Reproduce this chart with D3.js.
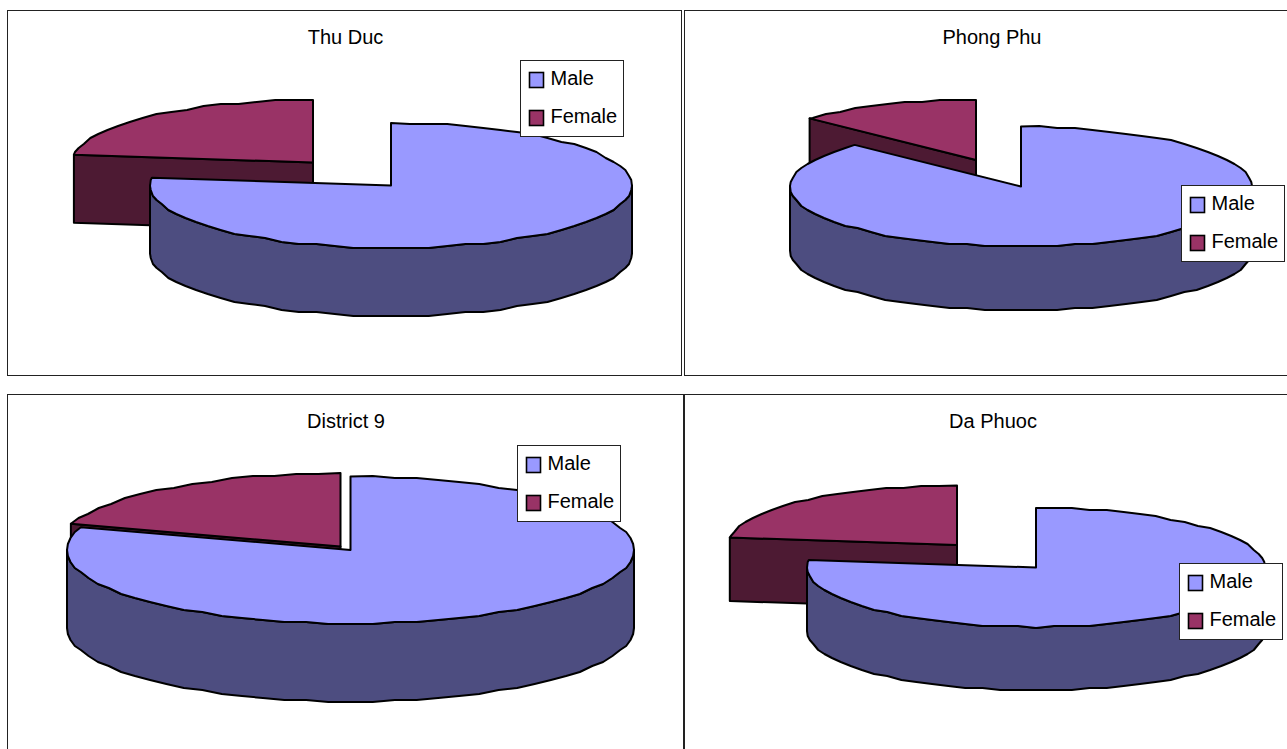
<!DOCTYPE html>
<html>
<head>
<meta charset="utf-8">
<title>Male and female share by district</title>
<script src="https://cdn.jsdelivr.net/npm/d3@7"></script>
<style>
    html, body { margin: 0; padding: 0; background: #fff; overflow: hidden; }
    text { font-family: "Liberation Sans", Arial, sans-serif; font-size: 20px; fill: #000; }
</style>
</head>
<body>
<div id="chart"></div>
<script>
var districts = ["Thu Duc", "Phong Phu", "District 9", "Da Phuoc"];
var categories = ["Male", "Female"];
var maleShare = [77, 87.2, 80, 77];
var femaleShare = [23, 12.8, 20, 23];

var width = 1287;
var height = 749;

var topColors = ["#9999ff", "#993366"];
var sideColors = ["#4d4d80", "#4d1a33"];

// panel frame, pie centre, radii, thickness and how far the female slice is pulled out
var panels = [
    { x: 7.5, y: 10.5, w: 674, h: 365, cx: 391, cy: 185.5, rx: 241, ry: 62.5, depth: 68, dx: -78, dy: -23, titleX: 345.5, titleY: 44, legendX: 520.5, legendY: 60.5 },
    { x: 684.5, y: 10.5, w: 606, h: 365, cx: 1021, cy: 186.5, rx: 231, ry: 60, depth: 64, dx: -45, dy: -26.5, titleX: 992, titleY: 44, legendX: 1181.5, legendY: 185.5 },
    { x: 7.5, y: 394.5, w: 676, h: 366, cx: 350.5, cy: 550, rx: 283.5, ry: 73.5, depth: 78, dx: -10, dy: -3.5, titleX: 346, titleY: 428, legendX: 517.5, legendY: 445.5 },
    { x: 684.5, y: 394.5, w: 606, h: 366, cx: 1036, cy: 567.5, rx: 229, ry: 59.5, depth: 63.5, dx: -79, dy: -22.5, titleX: 993, titleY: 428, legendX: 1179.5, legendY: 563.5 }
];

var legendWidth = 103;
var legendHeight = 76;
var stepAngle = Math.PI / 40;
var rimGrid = 2;

var pie = d3.pie().sort(null).value(function(d) { return d; });

var svg = d3.select("#chart")
    .append("svg")
    .attr("width", width)
    .attr("height", height)
    .style("display", "block");

// angles along the rim, with a flag on the ones that are free to snap
function rimAngles(a0, a1) {
    var angles = [{ a: a0, end: true }];
    var next = (Math.floor(a0 / stepAngle) + 1) * stepAngle;
    while (next < a1 - 0.001) {
        angles.push({ a: next, end: false });
        next += stepAngle;
    }
    angles.push({ a: a1, end: true });
    return angles;
}

function drawSlice(g, slice, index, x, y, depth) {
    var line = d3.line();
    var a0 = slice.startAngle;
    var a1 = slice.endAngle;

    function exactPoint(a, drop) {
        return [x(Math.sin(a)), y(-Math.cos(a)) + drop];
    }

    // interior rim points step vertically, which gives the slightly faceted outline
    function rimPoint(d, drop) {
        var pt = exactPoint(d.a, drop);
        if (d.end) return pt;
        return [pt[0], Math.round(pt[1] / rimGrid) * rimGrid];
    }

    function styled(path, fill) {
        path.attr("fill", fill)
            .attr("stroke", "#000")
            .attr("stroke-width", 2)
            .attr("stroke-linejoin", "round");
    }

    // the cut face shows only when it turns towards the viewer
    [[a0, a0 - Math.PI / 2], [a1, a1 + Math.PI / 2]].forEach(function(face) {
        if (Math.cos(face[1]) < -0.001) {
            g.append("path")
                .attr("d", line([
                    [x(0), y(0)],
                    exactPoint(face[0], 0),
                    exactPoint(face[0], depth),
                    [x(0), y(0) + depth]
                ]) + "Z")
                .call(styled, sideColors[index]);
        }
    });

    // outer wall, front half of the rim only
    var wall0 = Math.max(a0, Math.PI / 2);
    var wall1 = Math.min(a1, Math.PI * 1.5);
    if (wall1 > wall0) {
        var angles = rimAngles(wall0, wall1);
        var upper = angles.map(function(d) { return rimPoint(d, 0); });
        var lower = angles.slice().reverse().map(function(d) { return rimPoint(d, depth); });
        g.append("path")
            .attr("d", line(upper.concat(lower)) + "Z")
            .call(styled, sideColors[index]);
    }

    var top = [[x(0), y(0)]].concat(rimAngles(a0, a1).map(function(d) { return rimPoint(d, 0); }));
    g.append("path")
        .attr("d", line(top) + "Z")
        .call(styled, topColors[index]);
}

function drawLegend(g, p) {
    var legend = g.append("g")
        .attr("transform", "translate(" + p.legendX + "," + p.legendY + ")");

    legend.append("rect")
        .attr("width", legendWidth)
        .attr("height", legendHeight)
        .attr("fill", "#fff")
        .attr("stroke", "#222");

    var legendY = d3.scalePoint()
        .domain(categories)
        .range([19, 57]);

    var items = legend.selectAll(".item")
        .data(categories)
        .enter()
        .append("g")
        .attr("class", "item")
        .attr("transform", function(d) { return "translate(0," + legendY(d) + ")"; });

    items.append("rect")
        .attr("x", 9)
        .attr("y", -7)
        .attr("width", 14)
        .attr("height", 15)
        .attr("fill", function(d, i) { return topColors[i]; })
        .attr("stroke", "#000")
        .attr("stroke-width", 1.6);

    items.append("text")
        .attr("x", 30)
        .attr("y", 5)
        .text(function(d) { return d; });
}

districts.forEach(function(name, i) {
    var p = panels[i];
    var g = svg.append("g").attr("class", "panel");

    g.append("rect")
        .attr("x", p.x)
        .attr("y", p.y)
        .attr("width", p.w)
        .attr("height", p.h)
        .attr("fill", "#fff")
        .attr("stroke", "#222");

    g.append("text")
        .attr("x", p.titleX)
        .attr("y", p.titleY)
        .attr("text-anchor", "middle")
        .text(name);

    var slices = pie([maleShare[i], femaleShare[i]]);

    // female goes first, the male slice sits in front of it
    [1, 0].forEach(function(k) {
        var offsetX = k == 1 ? p.dx : 0;
        var offsetY = k == 1 ? p.dy : 0;
        var x = d3.scaleLinear().domain([-1, 1]).range([p.cx + offsetX - p.rx, p.cx + offsetX + p.rx]);
        var y = d3.scaleLinear().domain([-1, 1]).range([p.cy + offsetY - p.ry, p.cy + offsetY + p.ry]);
        drawSlice(g, slices[k], k, x, y, p.depth);
    });

    drawLegend(g, p);
});
</script>
</body>
</html>
